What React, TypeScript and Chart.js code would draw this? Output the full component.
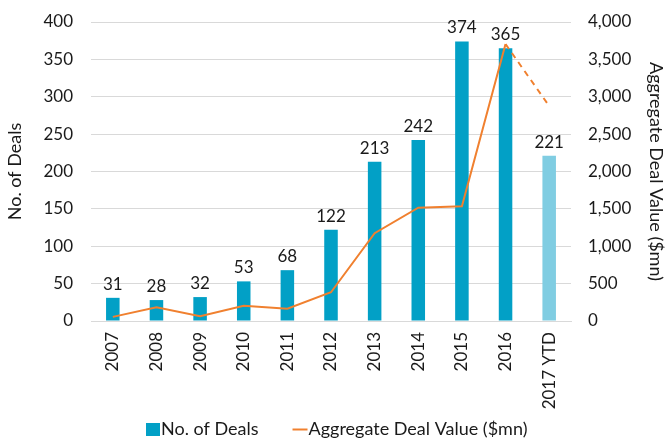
import React, { useEffect, useRef } from "react";
import { Chart, registerables } from "chart.js";

Chart.register(...registerables);

const categories = ["2007", "2008", "2009", "2010", "2011", "2012", "2013", "2014", "2015", "2016", "2017 YTD"];
const dealCounts = [31, 28, 32, 53, 68, 122, 213, 242, 374, 365, 221];
const dealValues = [55, 185, 65, 205, 165, 385, 1175, 1515, 1535, 3705, 2875];
const leftTicks = [0, 50, 100, 150, 200, 250, 300, 350, 400];
const rightTicks = [0, 500, 1000, 1500, 2000, 2500, 3000, 3500, 4000];
const legendNames = ["No. of Deals", "Aggregate Deal Value ($mn)"];

const FONT = "Lato";
const TEXT = "#1a1a1a";
const BAR = "#02A0C6";
const BAR_LIGHT = "#80CDE2";
const LINE = "#F0802F";

const labelPlugin = {
  id: "barLabels",
  afterDatasetsDraw(chart: any) {
    const ctx = chart.ctx;
    const meta = chart.getDatasetMeta(0);
    ctx.save();
    ctx.font = `17px ${FONT}`;
    ctx.fillStyle = TEXT;
    ctx.textAlign = "center";
    ctx.textBaseline = "alphabetic";
    meta.data.forEach((el: any, i: number) => {
      ctx.fillText(String(dealCounts[i]), el.x, el.y - 8);
    });
    ctx.restore();
  },
};

const legendPlugin = {
  id: "customLegend",
  afterDraw(chart: any) {
    const ctx = chart.ctx;
    ctx.save();
    ctx.font = `18px ${FONT}`;
    ctx.textBaseline = "middle";
    ctx.textAlign = "left";
    const cy = 429.5;
    let x = 146;
    ctx.fillStyle = BAR;
    ctx.fillRect(x, cy - 6.5, 14, 13);
    x += 15;
    ctx.fillStyle = TEXT;
    ctx.fillText(legendNames[0], x, cy);
    x += ctx.measureText(legendNames[0]).width + 34;
    ctx.strokeStyle = LINE;
    ctx.lineWidth = 2;
    ctx.beginPath();
    ctx.moveTo(x, cy);
    ctx.lineTo(x + 15, cy);
    ctx.stroke();
    x += 16;
    ctx.fillText(legendNames[1], x, cy);
    ctx.restore();
  },
};

const fixVertical = (w: number) => (s: any) => {
  s.width = w;
  s.paddingTop = 0;
  s.paddingBottom = 0;
};

export default function App() {
  const ref = useRef<HTMLCanvasElement>(null);
  useEffect(() => {
    const chart = new Chart(ref.current!, {
      type: "bar",
      data: {
        labels: categories,
        datasets: [
          {
            type: "bar",
            label: legendNames[0],
            data: dealCounts,
            backgroundColor: dealCounts.map((_, i) => (i === dealCounts.length - 1 ? BAR_LIGHT : BAR)),
            borderWidth: 0,
            barPercentage: 0.31,
            categoryPercentage: 1,
            yAxisID: "y",
            order: 1,
          } as any,
          {
            type: "line",
            label: legendNames[1],
            data: dealValues,
            borderColor: LINE,
            backgroundColor: LINE,
            borderWidth: 2,
            pointRadius: 0,
            tension: 0,
            yAxisID: "y1",
            order: 0,
            segment: {
              borderDash: (c: any) => (c.p1DataIndex === dealValues.length - 1 ? [6, 5] : undefined),
            },
          } as any,
        ],
      },
      options: {
        animation: false,
        responsive: false,
        layout: { padding: { left: 0, right: 0, top: 22, bottom: 0 } },
        plugins: {
          tooltip: { enabled: false },
          legend: { display: false },
        },
        scales: {
          x: {
            grid: { display: false, drawTicks: false },
            border: { color: "#d9d9d9", width: 1 },
            afterFit: (s: any) => { s.height = 118; s.paddingLeft = 0; s.paddingRight = 0; },
            ticks: {
              font: { family: FONT, size: 17 },
              color: TEXT,
              minRotation: 90,
              maxRotation: 90,
              padding: 11,
            },
          },
          y: {
            position: "left",
            min: 0,
            max: 400,
            afterBuildTicks: (s: any) => { s.ticks = leftTicks.map((v) => ({ value: v })); },
            afterFit: fixVertical(91),
            grid: { color: "#d9d9d9", drawTicks: false, lineWidth: 1 },
            border: { display: false },
            ticks: { font: { family: FONT, size: 17 }, color: TEXT, padding: 18 },
            title: { display: true, text: "No. of Deals", font: { family: FONT, size: 18 }, color: TEXT, padding: { top: 4, bottom: 0 } },
          },
          y1: {
            position: "right",
            min: 0,
            max: 4000,
            afterBuildTicks: (s: any) => { s.ticks = rightTicks.map((v) => ({ value: v })); },
            afterFit: fixVertical(96),
            grid: { display: false, drawTicks: false },
            border: { display: false },
            ticks: {
              font: { family: FONT, size: 17 },
              color: TEXT,
              padding: 17,
              callback: (v: any) => Number(v).toLocaleString("en-US"),
            },
            title: { display: true, text: "Aggregate Deal Value ($mn)", font: { family: FONT, size: 18 }, color: TEXT, padding: { top: 0, bottom: 0 } },
          },
        },
      },
      plugins: [labelPlugin, legendPlugin],
    });
    return () => chart.destroy();
  }, []);
  return (
    <div style={{ position: "fixed", left: 0, top: 0, width: 667, height: 439, background: "#fff" }}>
      <canvas ref={ref} width={667} height={439} />
    </div>
  );
}
